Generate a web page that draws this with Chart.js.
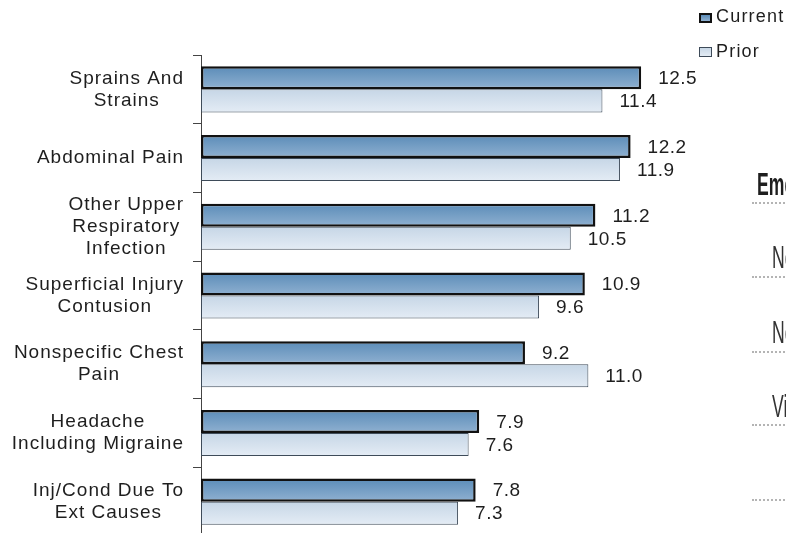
<html lang="en">
<head>
  <meta charset="UTF-8" />
  <title>Top Diagnoses</title>
  <script src="https://cdn.jsdelivr.net/npm/chart.js"></script>
  <style>
    body { margin: 0; width: 786px; height: 533px; overflow: hidden; background: #fff; position: relative; font-family: "Liberation Sans", Arial, sans-serif; color: #1e1e1e; }
    #chart { position: absolute; left: 0; top: 0; }
    .key { position: absolute; left: 699px; width: 9px; height: 6px; }
    .key.cur { top: 13px; border: 2px solid #111; background: linear-gradient(#5b8cb8, #8fb0d0); }
    .key.pri { top: 47px; border: 1px solid #3e4b59; width: 11px; height: 8px; background: linear-gradient(#c8d7e6, #e3ebf4); }
    .keytxt { position: absolute; left: 716px; font-size: 18px; line-height: 18px; letter-spacing: 1.2px; white-space: nowrap; }
    .side { position: absolute; font-size: 32px; line-height: 32px; transform: scaleX(0.55); transform-origin: left top; white-space: nowrap; color: #333; }
    .dots { position: absolute; left: 752px; width: 40px; border-top: 2px dotted #b4b4b4; }
  </style>
</head>
<body>
  <canvas id="chart" width="786" height="545"></canvas>

  <div class="key cur"></div><div class="keytxt" style="top:7px">Current</div>
  <div class="key pri"></div><div class="keytxt" style="top:42px">Prior</div>

  <div class="side" style="left:757px; top:168px; font-weight:bold; color:#1e1e1e">Eme</div>
  <div class="dots" style="top:202px"></div>
  <div class="side" style="left:772px; top:241px">Ne</div>
  <div class="dots" style="top:276px"></div>
  <div class="side" style="left:772px; top:316px">Ne</div>
  <div class="dots" style="top:351px"></div>
  <div class="side" style="left:772px; top:390px">Vi</div>
  <div class="dots" style="top:424px"></div>
  <div class="dots" style="top:499px"></div>

  <script>
    const categories = [
      ["Sprains And", "Strains"],
      ["Abdominal Pain"],
      ["Other Upper", "Respiratory", "Infection"],
      ["Superficial Injury", "Contusion"],
      ["Nonspecific Chest", "Pain"],
      ["Headache", "Including Migraine"],
      ["Inj/Cond Due To", "Ext Causes"]
    ];
    const current = [12.5, 12.2, 11.2, 10.9, 9.2, 7.9, 7.8];
    const prior = [11.4, 11.9, 10.5, 9.6, 11.0, 7.6, 7.3];

    const FONT = '19px "Liberation Sans", Arial, sans-serif';
    const CAT_PCT = 0.67;

    // vertical gradient per bar; which half of the category it sits in
    function barFill(top, bottom, half) {
      return ctx => {
        const chart = ctx.chart;
        const y = chart.scales && chart.scales.y;
        if (!y || ctx.dataIndex == null || !y.height) return top;
        const c = y.getPixelForValue(ctx.dataIndex);
        const h = y.height / categories.length * CAT_PCT / 2;
        const y0 = half === 0 ? c - h : c;
        const g = chart.ctx.createLinearGradient(0, y0, 0, y0 + h);
        g.addColorStop(0, top);
        g.addColorStop(1, bottom);
        return g;
      };
    }

    const categoryLabels = {
      id: 'categoryLabels',
      afterDraw(chart) {
        const { ctx, scales: { y } } = chart;
        ctx.save();
        ctx.font = FONT;
        ctx.letterSpacing = '1px';
        ctx.fillStyle = '#1e1e1e';
        ctx.textAlign = 'center';
        ctx.textBaseline = 'middle';
        categories.forEach((lines, i) => {
          const c = y.getPixelForValue(i);
          const w = Math.max(...lines.map(l => ctx.measureText(l).width));
          const cx = 184 - w / 2;
          lines.forEach((l, j) => {
            ctx.fillText(l, cx, c + (j - (lines.length - 1) / 2) * 22);
          });
        });
        ctx.restore();
      }
    };

    const valueLabels = {
      id: 'valueLabels',
      afterDatasetsDraw(chart) {
        const { ctx } = chart;
        ctx.save();
        ctx.font = FONT;
        ctx.letterSpacing = '0.5px';
        ctx.fillStyle = '#1e1e1e';
        ctx.textAlign = 'left';
        ctx.textBaseline = 'middle';
        chart.data.datasets.forEach((ds, di) => {
          chart.getDatasetMeta(di).data.forEach((bar, i) => {
            ctx.fillText(ds.data[i].toFixed(1), bar.x + 17, bar.y + 1);
          });
        });
        ctx.restore();
      }
    };

    new Chart(document.getElementById('chart'), {
      type: 'bar',
      data: {
        labels: categories,
        datasets: [
          {
            label: 'Current',
            data: current,
            backgroundColor: barFill('#5b8cb8', '#90b1d1', 0),
            borderColor: '#111',
            borderWidth: 2.5,
            borderSkipped: false
          },
          {
            label: 'Prior',
            data: prior,
            backgroundColor: barFill('#c6d6e6', '#e4ecf5', 1),
            borderColor: '#3e4b59',
            borderWidth: 1,
            borderSkipped: false
          }
        ]
      },
      options: {
        indexAxis: 'y',
        responsive: false,
        animation: false,
        events: [],
        categoryPercentage: CAT_PCT,
        barPercentage: 1,
        layout: { padding: { top: 55, bottom: 9, left: 0, right: 92 } },
        plugins: { legend: { display: false }, tooltip: { enabled: false } },
        scales: {
          x: { display: false, min: 0, max: 14 },
          y: {
            ticks: { display: false },
            grid: { drawOnChartArea: false, drawTicks: true, tickLength: 8, color: '#444', offset: true },
            border: { color: '#444', width: 1 },
            afterFit(s) { s.width = 201; }
          }
        }
      },
      plugins: [categoryLabels, valueLabels]
    });
  </script>
</body>
</html>
